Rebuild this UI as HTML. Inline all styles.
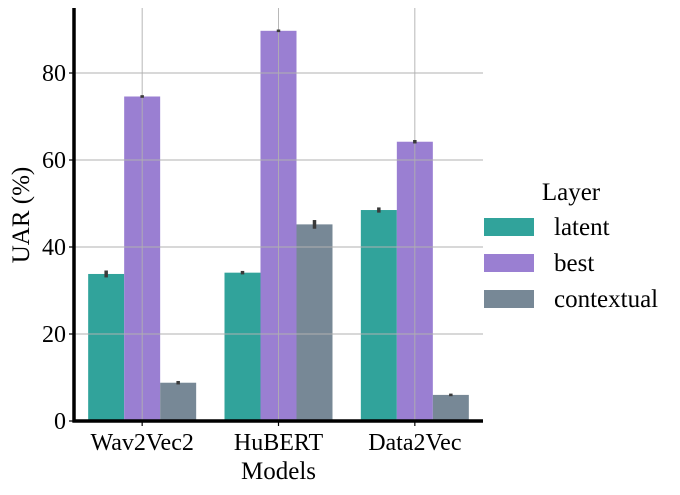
<!DOCTYPE html>
<html><head><meta charset="utf-8"><style>
body{margin:0;background:#fff;}
svg{display:block;font-family:"Liberation Serif",serif;}
</style></head><body>
<svg id="chart" width="680" height="495">
<g id="bars"></g>
<g id="grid"></g>
<g id="errs"></g>
<g id="axes"></g>
<g id="legend"></g>
</svg>
<script>
const categories = ["Wav2Vec2","HuBERT","Data2Vec"];
const seriesNames = ["latent","best","contextual"];
const latentVals = [33.8, 34.1, 48.5];
const bestVals = [74.6, 89.7, 64.2];
const contextualVals = [8.8, 45.2, 6.0];
const errHalf = [[0.8,0.4,0.6],[0.3,0.3,0.4],[0.4,1.0,0.3]];
const yTicks = [0,20,40,60,80];
const colors = ["#31a39b","#9a7fd2","#778896"];
const series = [latentVals, bestVals, contextualVals];

const NS="http://www.w3.org/2000/svg";
const x0=74, x1=483, yTop=8, yBase=421;
const yScale=v=>yBase-v*4.35;
const groupW=(x1-x0)/categories.length;
const xCenter=i=>x0+groupW*(i+0.5);
const barW=36;
function mk(parent,tag,attrs,text){const e=document.createElementNS(NS,tag);for(const k in attrs)e.setAttribute(k,attrs[k]);if(text!==undefined)e.textContent=text;document.getElementById(parent).appendChild(e);return e;}

series.forEach((vals,s)=>{vals.forEach((v,i)=>{
  const bx=xCenter(i)+(s-1)*barW-barW/2;
  const r=mk("bars","rect",{x:bx,y:yScale(v),width:barW,height:yBase-yScale(v),fill:colors[s]});
  
  
  const cx=bx+barW/2, e=errHalf[s][i];
  const l=mk("errs","line",{x1:cx,x2:cx,y1:yScale(v+e),y2:yScale(v-e),stroke:"#3a3a3a","stroke-width":3.5});
  
  
});});

yTicks.forEach(t=>{
  const g=mk("grid","line",{x1:x0,x2:x1,y1:yScale(t),y2:yScale(t),stroke:"#b0b0b0","stroke-width":0.9});
  
  
  mk("axes","line",{x1:x0-5,x2:x0,y1:yScale(t),y2:yScale(t),stroke:"#000","stroke-width":1.2});
  const tl=mk("axes","text",{x:x0-8,y:yScale(t)+8,"text-anchor":"end","font-size":24},t);
  
  
});
categories.forEach((c,i)=>{
  const g=mk("grid","line",{x1:xCenter(i),x2:xCenter(i),y1:yTop,y2:yBase,stroke:"#b0b0b0","stroke-width":0.9});
  
  
  mk("axes","line",{x1:xCenter(i),x2:xCenter(i),y1:yBase,y2:yBase+5,stroke:"#000","stroke-width":1.2});
  const tl=mk("axes","text",{x:xCenter(i),y:yBase+29,"text-anchor":"middle","font-size":24},c);
  
  
});
mk("axes","line",{x1:x0,x2:x0,y1:yTop,y2:yBase+1.5,stroke:"#000","stroke-width":3.5});
mk("axes","line",{x1:x0-1.5,x2:x1,y1:yBase,y2:yBase,stroke:"#000","stroke-width":3.5});
const xt=mk("axes","text",{x:(x0+x1)/2,y:479,"text-anchor":"middle","font-size":25},"Models");


const yt=mk("axes","text",{x:0,y:0,"text-anchor":"middle","font-size":25,transform:"translate(29,215) rotate(-90)"},"UAR (%)");



const lt=mk("legend","text",{x:571,y:200,"text-anchor":"middle","font-size":25},"Layer");


seriesNames.forEach((n,s)=>{
  const y=218+s*36;
  const p=mk("legend","rect",{x:484,y:y,width:50,height:18,fill:colors[s]});
  
  
  const t=mk("legend","text",{x:554,y:y+17,"font-size":25},n);
  
  
});
</script>
</body></html>
